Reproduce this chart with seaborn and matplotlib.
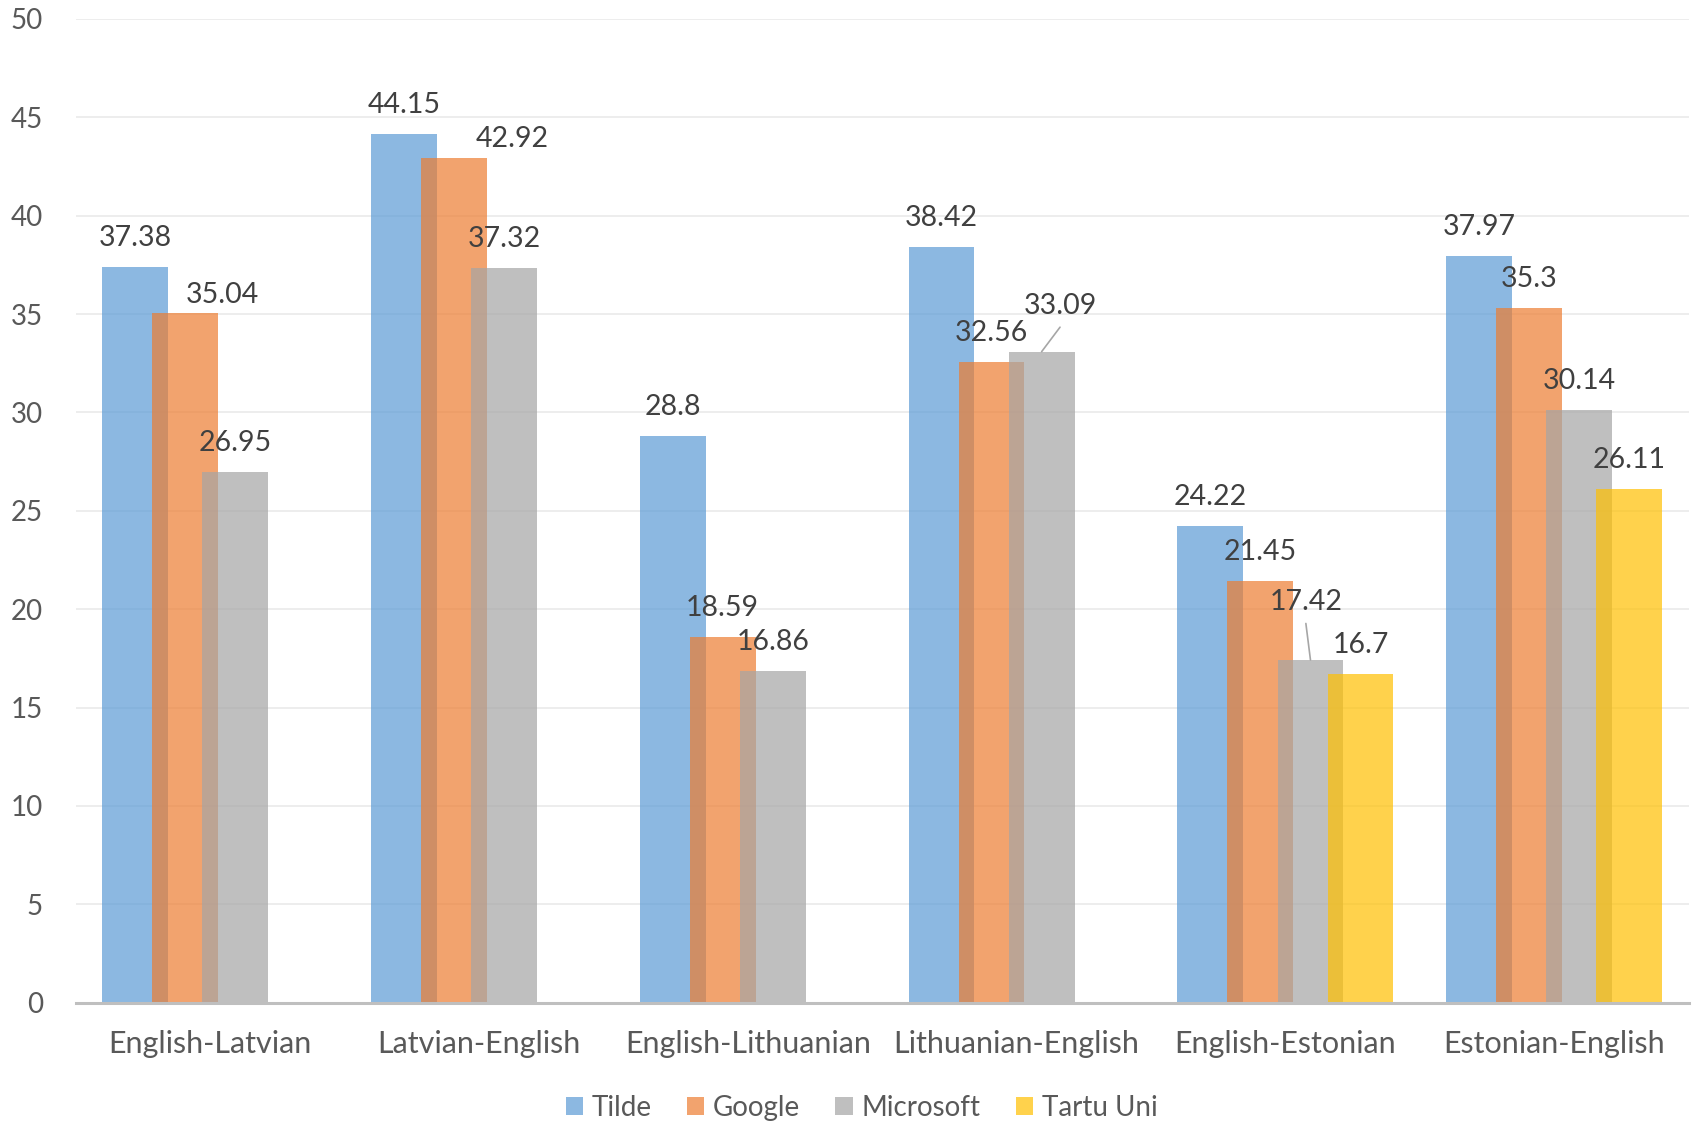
import numpy as np
import pandas as pd
import matplotlib
matplotlib.use("Agg")
import matplotlib.pyplot as plt
from matplotlib.patches import Patch
import seaborn as sns

# ---------------- data ----------------
categories = ["English-Latvian", "Latvian-English", "English-Lithuanian",
              "Lithuanian-English", "English-Estonian", "Estonian-English"]
systems = ["Tilde", "Google", "Microsoft", "Tartu Uni"]
tilde = [37.38, 44.15, 28.8, 38.42, 24.22, 37.97]
google = [35.04, 42.92, 18.59, 32.56, 21.45, 35.3]
microsoft = [26.95, 37.32, 16.86, 33.09, 17.42, 30.14]
tartu = [None, None, None, None, 16.7, 26.11]
y_ticks = [0, 5, 10, 15, 20, 25, 30, 35, 40, 45, 50]

# ---------------- style ----------------
colors = ["#5B9BD5", "#ED7D31", "#A5A5A5", "#FFC000"]
ALPHA = 0.7
sns.set_style("white")
plt.rcParams["font.family"] = ["Lato", "DejaVu Sans"]

rows = []
for name, vals in zip(systems, [tilde, google, microsoft, tartu]):
    for cat, v in zip(categories, vals):
        if v is not None:
            rows.append({"pair": cat, "system": name, "score": v})
df = pd.DataFrame(rows)

fig = plt.figure(figsize=(16.94, 11.22), dpi=100)
ax = fig.add_axes([0.04463, 0.10633, 0.95225, 0.87674])

GROUP_W = 0.745
BAR_W = 0.245
sns.barplot(data=df, x="pair", y="score", hue="system", order=categories,
            hue_order=systems, palette=colors, alpha=ALPHA, width=GROUP_W,
            dodge=True, errorbar=None, linewidth=0, saturation=1,
            legend=False, ax=ax)

# widen bars so they overlap (Excel-style negative gap)
for p in ax.patches:
    cx = p.get_x() + p.get_width() / 2
    p.set_width(BAR_W)
    p.set_x(cx - BAR_W / 2)

slot = GROUP_W / len(systems)
PX = 0.72  # px -> pt at 100 dpi
default_off = (0, 29.0)
custom_off = {(0, 1): (37.3, 18.5), (1, 1): (58.9, 19.0),
              (3, 2): (18.4, 45.5), (4, 2): (-4.6, 57.5)}
leaders = [(3, 2), (4, 2)]

for s, vals in enumerate([tilde, google, microsoft, tartu]):
    for g, v in enumerate(vals):
        if v is None:
            continue
        x = g + (s - 1.5) * slot
        dx, dy = custom_off.get((g, s), default_off)
        ax.annotate(f"{v:g}", xy=(x, v), xytext=(dx * PX, dy * PX),
                    textcoords="offset points", ha="center", va="center",
                    fontsize=20.5, color="#404040")
        if (g, s) in leaders:
            ax.annotate("", xy=(x, v), xytext=(dx * PX, (dy - 21) * PX),
                        textcoords="offset points",
                        arrowprops=dict(arrowstyle="-", color="#A6A6A6",
                                        lw=1.2, shrinkA=0, shrinkB=0))

ax.set_ylim(0, 50)
ax.set_xlim(-0.5, len(categories) - 0.5)
ax.set_yticks(y_ticks)
ax.set_xlabel("")
ax.set_ylabel("")
ax.yaxis.grid(True, color="#EDEDED", lw=1.4)
ax.set_axisbelow(True)
for side in ["top", "left", "right"]:
    ax.spines[side].set_visible(False)
ax.spines["bottom"].set_color("#BFBFBF")
ax.spines["bottom"].set_linewidth(2.2)
ax.spines["bottom"].set_zorder(5)
ax.tick_params(axis="y", length=0, pad=23.5, labelsize=20, labelcolor="#595959")
ax.tick_params(axis="x", length=0, pad=20, labelsize=22, labelcolor="#595959")

handles = [Patch(facecolor=c, alpha=ALPHA, edgecolor="none") for c in colors]
fig.legend(handles, systems, loc="center", bbox_to_anchor=(861.6 / 1694, 1 - 1108 / 1122),
           ncol=4, frameon=False, fontsize=20, labelcolor="#595959",
           handlelength=0.62, handleheight=0.62, handletextpad=0.32,
           columnspacing=1.26, borderaxespad=0, borderpad=0)

fig.savefig("out.png", dpi=100)
